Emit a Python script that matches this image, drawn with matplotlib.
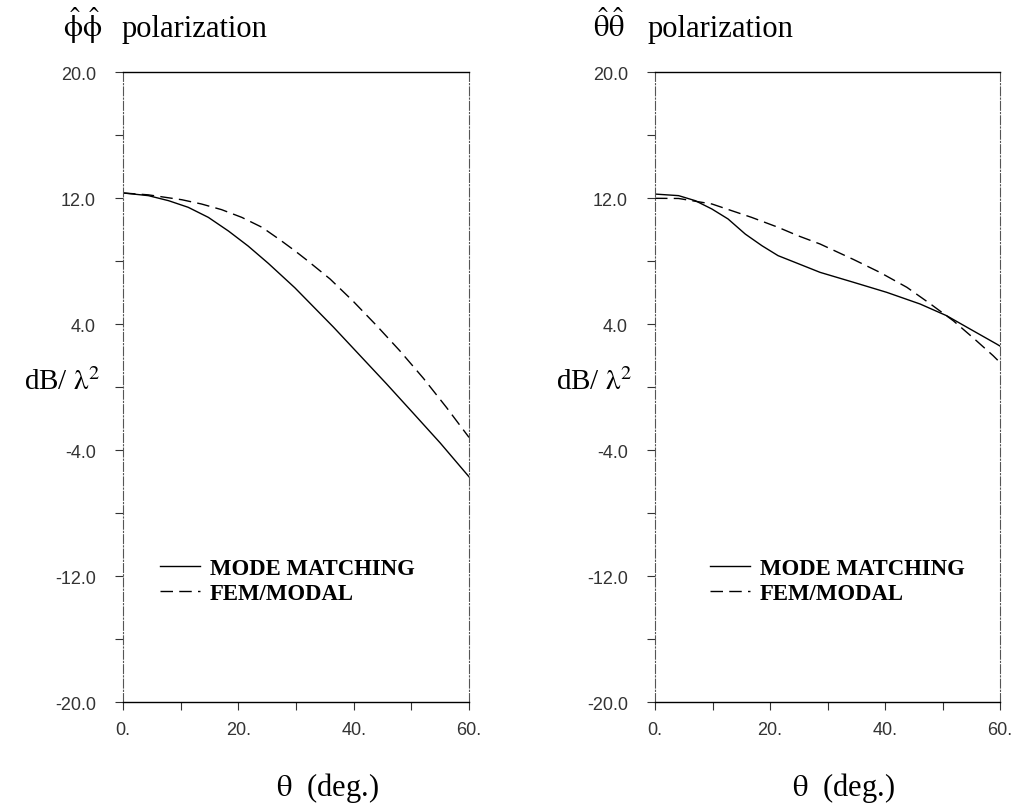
import numpy as np
import matplotlib
matplotlib.use("Agg")
import matplotlib.pyplot as plt
from matplotlib.ticker import MultipleLocator, FixedLocator

plt.rcParams['mathtext.fontset'] = 'stix'

# left panel: phi-phi polarization
phi_mm_x = [0, 4.4, 7.9, 11.3, 14.8, 18.3, 21.7, 25.2, 29.8, 36.5, 41.1, 45.7,
            50.3, 55.0, 60]
phi_mm_y = [12.32, 12.15, 11.83, 11.41, 10.77, 9.9, 8.95, 7.85, 6.3, 3.8, 2.0, 0.2,
            -1.65, -3.55, -5.7]
phi_fem_x = [0, 4.4, 10.2, 13.6, 17.1, 20.6, 24.1, 27.2, 29.8, 31.9, 35.9, 39.9,
             44.0, 48.0, 52.1, 56.1, 60]
phi_fem_y = [12.32, 12.2, 11.89, 11.62, 11.26, 10.77, 10.14, 9.35, 8.65, 8.05, 6.86,
             5.45, 3.89, 2.3, 0.55, -1.3, -3.2]

# right panel: theta-theta polarization
th_mm_x = [0, 4.1, 7.0, 9.9, 12.7, 15.7, 18.6, 21.4, 24.3, 28.7, 34.5, 40.3,
           46.1, 50.7, 54.8, 59.4, 60]
th_mm_y = [12.25, 12.15, 11.83, 11.3, 10.67, 9.71, 8.97, 8.34, 7.92, 7.28, 6.65,
           6.01, 5.27, 4.53, 3.68, 2.73, 2.6]
th_fem_x = [0, 4.1, 9.9, 13.3, 16.8, 21.4, 24.9, 28.7, 34.5, 39.1, 43.8, 47.8,
            51.9, 55.4, 58.8, 59.6]
th_fem_y = [11.98, 11.97, 11.62, 11.2, 10.77, 10.14, 9.6, 9.08, 8.1, 7.28, 6.33,
            5.3, 4.2, 3.1, 1.99, 1.7]

x_ticks = [0, 20, 40, 60]
x_labels = ['0.', '20.', '40.', '60.']
y_ticks = [20, 12, 4, -4, -12, -20]
y_labels = ['20.0', '12.0', '4.0', '-4.0', '-12.0', '-20.0']

W, H = 1020.0, 812.0
fig = plt.figure(figsize=(W / 100, H / 100), dpi=100)

ax1 = fig.add_axes([123 / W, 1 - 703 / H, 346 / W, 630 / H])
ax2 = fig.add_axes([655 / W, 1 - 703 / H, 345 / W, 630 / H])

titles = [r'$\hat{\mathrm{\phi}}\hat{\mathrm{\phi}}$', r'$\hat{\mathrm{\theta}}\hat{\mathrm{\theta}}$']
title_x = [63, 593]
pol_x = [122, 648]
xlab_x = [0.59, 0.545]
leg_x = [0.107, 0.159]
data = [(phi_mm_x, phi_mm_y, phi_fem_x, phi_fem_y),
        (th_mm_x, th_mm_y, th_fem_x, th_fem_y)]

serif = 'Liberation Serif'

for i, ax in enumerate([ax1, ax2]):
    mx, my, fx, fy = data[i]
    ax.plot(mx, my, color='black', lw=1.0, label='MODE MATCHING')
    ax.plot(fx, fy, color='black', lw=1.0, dashes=(9, 4.5), label='FEM/MODAL')
    ax.set_xlim(0, 60)
    ax.set_ylim(-20, 20)

    for side in ['left', 'right']:
        ax.spines[side].set_linestyle((0, (8, 2, 1, 2)))
        ax.spines[side].set_linewidth(0.8)
        ax.spines[side].set_color('#555555')
    ax.spines['top'].set_linewidth(1.0)
    ax.spines['bottom'].set_linewidth(1.0)

    ax.xaxis.set_major_locator(FixedLocator(x_ticks))
    ax.set_xticklabels(x_labels)
    ax.xaxis.set_minor_locator(MultipleLocator(10))
    ax.yaxis.set_major_locator(FixedLocator(y_ticks))
    ax.set_yticklabels(y_labels)
    ax.yaxis.set_minor_locator(MultipleLocator(4))
    ax.tick_params(axis='both', which='both', direction='out', length=5.5,
                   width=0.8, color='#333333', labelsize=13, labelcolor='#333333')
    ax.tick_params(axis='x', pad=8)
    ax.tick_params(axis='y', pad=14)
    for lab in ax.get_xticklabels() + ax.get_yticklabels():
        lab.set_family('Liberation Sans')

    # panel title
    fig.text(title_x[i] / W, 1 - 37 / H, titles[i], fontsize=22, ha='left', va='baseline')
    fig.text(pol_x[i] / W, 1 - 37 / H, 'polarization', fontsize=22, family=serif,
             ha='left', va='baseline')

    ax.text(xlab_x[i], -0.135, r'$\mathrm{\theta}$  (deg.)', transform=ax.transAxes,
            fontsize=22, ha='center', va='center', family=serif)
    ax.text(-0.066, 0.497, r'dB/ $\mathrm{\lambda}^2$', transform=ax.transAxes, fontsize=21,
            ha='right', va='baseline', family=serif)

    ax.legend(loc='upper left', bbox_to_anchor=(leg_x[i], 0.229), frameon=False,
              prop={'family': serif, 'weight': 'bold', 'size': 16.4},
              handlelength=1.75, handletextpad=0.45, labelspacing=0.2,
              borderaxespad=0, borderpad=0)

fig.savefig('out.png', dpi=100)
